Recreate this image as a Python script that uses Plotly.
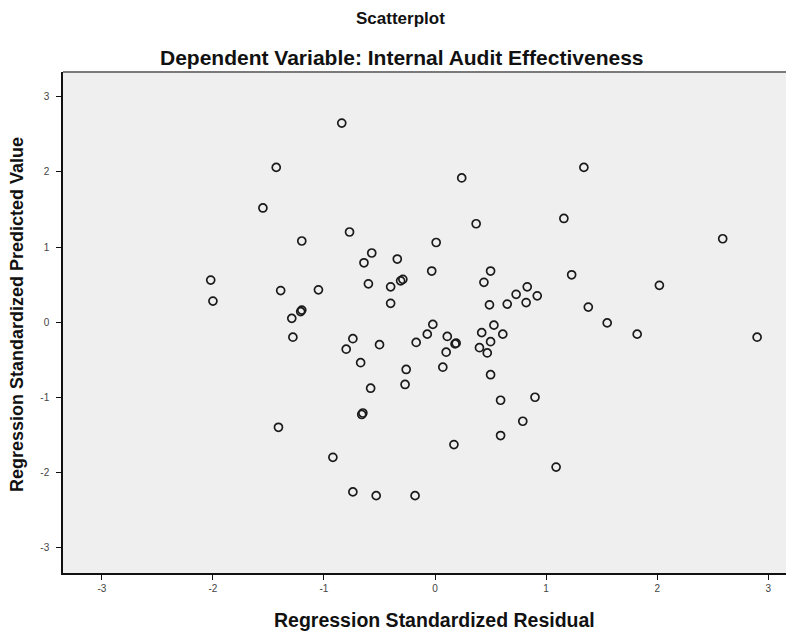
import plotly.graph_objects as go

residual = [-0.84, -1.43, -1.55, -0.77, -1.20, 0.01, -0.57, -0.64, -0.34, -0.03,
            -2.02, -0.60, -0.29, -0.31, -0.40, -1.39, -1.05, -2.00, -0.40, -1.20,
            -1.21, -1.29, -0.02, -1.28, -0.74, -0.80, -0.50, -0.67, -0.26, -0.17,
            -0.07, -0.58, -0.27, -0.66, -0.65, -1.41, -0.92, -0.74, -0.53, -0.18,
            0.24, 1.34, 0.37, 1.16, 2.59, 0.50, 0.44, 1.23, 2.02, 0.83,
            0.73, 0.92, 0.49, 0.65, 0.82, 1.38, 0.53, 1.55, 0.11, 0.19,
            0.18, 0.10, 0.07, 0.42, 0.61, 0.50, 0.40, 0.47, 0.50, 0.59,
            0.90, 0.79, 0.59, 0.17, 1.09, 1.82, 2.90]
predicted = [2.65, 2.06, 1.52, 1.20, 1.08, 1.06, 0.92, 0.79, 0.84, 0.68,
             0.56, 0.51, 0.57, 0.55, 0.47, 0.42, 0.43, 0.28, 0.25, 0.16,
             0.14, 0.05, -0.03, -0.20, -0.22, -0.36, -0.30, -0.54, -0.63, -0.27,
             -0.16, -0.88, -0.83, -1.23, -1.21, -1.40, -1.80, -2.26, -2.31, -2.31,
             1.92, 2.06, 1.31, 1.38, 1.11, 0.68, 0.53, 0.63, 0.49, 0.47,
             0.37, 0.35, 0.23, 0.24, 0.26, 0.20, -0.04, -0.01, -0.19, -0.28,
             -0.29, -0.40, -0.60, -0.14, -0.16, -0.26, -0.34, -0.41, -0.70, -1.04,
             -1.00, -1.32, -1.51, -1.63, -1.93, -0.16, -0.20]
tick_values = [-3, -2, -1, 0, 1, 2, 3]
tick_labels = ["-3", "-2", "-1", "0", "1", "2", "3"]

FONT = "Liberation Sans, Arial, sans-serif"

# page body has an 8px margin: figure origin sits at (8, 8) in the screenshot
OFF = 8
FIG_W, FIG_H = 798 - OFF, 635 - OFF
# plot area in screenshot pixels: left 63, right 786, top 72, bottom 573
L, R, T, B = 63 - OFF, 786 - OFF, 72 - OFF, 573 - OFF
W, H = R - L, B - T


def px_x(p):
    return (p - OFF - L) / W


def px_y(p):
    return (B - (p - OFF)) / H


fig = go.Figure()
fig.add_trace(go.Scatter(
    x=residual, y=predicted, mode="markers",
    marker=dict(symbol="circle-open", size=8, color="#1a1a1a",
                line=dict(width=1.7, color="#1a1a1a")),
    hoverinfo="skip", showlegend=False,
))

fig.update_layout(
    width=FIG_W, height=FIG_H,
    margin=dict(l=L, r=FIG_W - R, t=T, b=FIG_H - B),
    paper_bgcolor="white",
    plot_bgcolor="#efefef",
    font=dict(family=FONT, color="#111"),
    annotations=[
        dict(text="<b>Scatterplot</b>", xref="paper", yref="paper",
             x=px_x(400), y=px_y(18), xanchor="center", yanchor="middle",
             showarrow=False, font=dict(size=17, family=FONT, color="#111")),
        dict(text="<b>Dependent Variable: Internal Audit Effectiveness</b>",
             xref="paper", yref="paper", x=px_x(402), y=px_y(58),
             xanchor="center", yanchor="middle", showarrow=False,
             font=dict(size=21, family=FONT, color="#111")),
        dict(text="<b>Regression Standardized Residual</b>",
             xref="paper", yref="paper", x=px_x(435), y=px_y(620),
             xanchor="center", yanchor="middle", showarrow=False,
             font=dict(size=19.5, family=FONT, color="#111")),
        dict(text="<b>Regression Standardized Predicted Value</b>",
             xref="paper", yref="paper", x=px_x(17), y=px_y(315),
             xanchor="center", yanchor="middle", showarrow=False, textangle=-90,
             font=dict(size=18, family=FONT, color="#111")),
    ],
    shapes=[dict(type="line", xref="paper", yref="paper", x0=0, x1=1, y0=1, y1=1,
                 line=dict(color="#7a7a7a", width=2))],
)

fig.update_xaxes(
    range=[-3.35, 3.16], tickvals=tick_values, ticktext=tick_labels,
    showgrid=False, zeroline=False, automargin=False,
    showline=True, linecolor="#111", linewidth=1.5,
    ticks="outside", ticklen=5, tickcolor="#111", tickwidth=1,
    tickfont=dict(size=10, color="#444", family=FONT),
)
fig.update_yaxes(
    range=[-3.34, 3.33], tickvals=tick_values, ticktext=tick_labels,
    showgrid=False, zeroline=False, automargin=False,
    showline=True, linecolor="#111", linewidth=1.5,
    ticks="outside", ticklen=5, tickcolor="#111", tickwidth=1,
    ticklabelstandoff=5,
    tickfont=dict(size=10, color="#444", family=FONT),
)

fig.write_html("out.html")
